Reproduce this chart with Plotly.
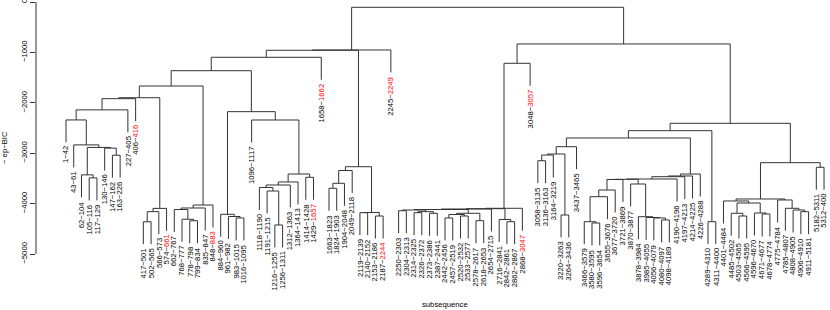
import plotly.graph_objects as go

# ---------------- data ----------------
leaf_labels = [
    "1-42", "43-61", "62-104", "105-116", "117-129", "130-146", "147-162", "163-226", "227-405", "406-416",
    "417-501", "502-565", "566-573", "574-661", "662-767", "768-777", "778-798", "799-834", "835-847", "848-883",
    "884-960", "961-982", "983-1015", "1016-1095", "1096-1117", "1118-1190", "1191-1215", "1216-1255", "1256-1311",
    "1312-1363", "1364-1413", "1414-1428", "1429-1657", "1658-1662", "1663-1823", "1824-1903", "1904-2048",
    "2049-2118", "2119-2139", "2140-2152", "2153-2186", "2187-2244", "2245-2249", "2250-2303", "2304-2313",
    "2314-2325", "2326-2372", "2373-2386", "2387-2441", "2442-2456", "2457-2519", "2520-2532", "2533-2577",
    "2578-2617", "2618-2653", "2654-2715", "2716-2841", "2842-2861", "2862-2867", "2868-3047", "3048-3057",
    "3058-3135", "3136-3163", "3164-3219", "3220-3263", "3264-3436", "3437-3465", "3466-3579", "3580-3595",
    "3596-3654", "3655-3676", "3677-3720", "3721-3869", "3870-3877", "3878-3984", "3985-4055", "4056-4079",
    "4080-4097", "4098-4189", "4190-4196", "4197-4213", "4214-4225", "4226-4288", "4289-4310", "4311-4400",
    "4401-4484", "4485-4502", "4503-4565", "4566-4595", "4596-4670", "4671-4677", "4678-4774", "4775-4784",
    "4785-4807", "4808-4905", "4906-4910", "4911-5181", "5182-5311", "5312-400",
]
red_leaves = [10, 14, 20, 33, 34, 42, 43, 60, 61]   # leaves whose end value is shown in red

# merges (R hclust style): "L<i>" = leaf i, "M<j>" = merge j (1-based)
merge_left = [
    "L4", "L3", "L7", "L6", "M2", "L2", "L1", "M7", "M8", "L11",
    "M10", "M11", "M9", "L17", "L16", "L15", "M16", "M17", "M13", "L23",
    "L22", "L21", "L28", "L27", "L26", "M25", "M26", "L32", "M27", "L25",
    "M22", "M19", "M32", "L35", "M34", "M35", "L39", "L41", "M37", "M36",
    "M33", "M41",
    "L44", "L46", "L48", "M44", "L50", "L52", "M47", "L54", "M49", "M43",
    "M52", "M53", "L58", "L57", "M54", "M57", "M58",
    "L62", "M60", "L65", "M61", "M63", "L69", "L68", "M66", "M67", "M68",
    "L78", "L77", "L76", "L75", "L74", "M69", "M75", "M76", "M77", "M78",
    "M64", "L84", "M80", "L88", "L87", "L91", "L90", "M84", "L86", "L96",
    "L95", "L94", "L93", "M88", "L98", "M93", "M82", "M59", "M42",
]
merge_right = [
    "L5", "M1", "L8", "M3", "M4", "M5", "M6", "L9", "L10", "L12",
    "L13", "L14", "M12", "L18", "M14", "M15", "L19", "L20", "M18", "L24",
    "M20", "M21", "L29", "M23", "M24", "L30", "L31", "L33", "M28", "M29",
    "M30", "M31", "L34", "L36", "L37", "L38", "L40", "L42", "M38", "M39",
    "M40", "L43",
    "L45", "L47", "L49", "M45", "L51", "L53", "M48", "L55", "M50", "M46",
    "M51", "L56", "L59", "M55", "M56", "L60", "L61",
    "L63", "L64", "L66", "M62", "L67", "L70", "M65", "L71", "L72", "L73",
    "L79", "M70", "M71", "M72", "M73", "M74", "L80", "L81", "L82", "L83",
    "M79", "L85", "M81", "L89", "M83", "L92", "M85", "M86", "M87", "L97",
    "M89", "M90", "M91", "M92", "L99", "M94", "M95", "M96", "M97",
]
merge_height = [
    -3490, -3430, -3040, -2900, -2885, -2835, -2340, -2140, -1918, -4360,
    -4160, -4095, -1899, -4340, -4310, -4117, -4087, -4028, -1667, -4285,
    -4256, -4212, -4424, -3750, -3680, -3631, -3571, -3478, -3413, -2341,
    -2176, -1363, -1097, -3696, -3597, -3343, -4180, -4246, -4176, -3268,
    -958, -952,
    -4141, -4180, -4192, -4160, -4285, -4246, -4216, -4339, -4192, -4127,
    -4117, -4107, -4359, -4315, -4101, -4093, -1216,
    -3149, -3036, -4226, -3016, -2871, -4385, -4359, -3863, -3730, -3522,
    -4325, -4285, -4276, -4260, -3611, -3518, -3512, -3466, -3452, -3413,
    -2698, -4359, -2553, -4246, -4192, -4206, -4186, -3988, -3948, -4160,
    -4127, -4093, -3928, -3908, -3279, -3188, -2407, -833, -105,
]
hang = 446
y_ticks = [0, -1000, -2000, -3000, -4000, -5000]

# ---------------- build dendrogram ----------------
node_x, node_y = {}, {}
for i in range(1, len(leaf_labels) + 1):
    node_x["L%d" % i] = float(i)

xs, ys = [], []
leaf_bottom = {}
for j, (a, b, h) in enumerate(zip(merge_left, merge_right, merge_height), start=1):
    tops = []
    for c in (a, b):
        if c.startswith("L"):
            tops.append(h - hang)
            leaf_bottom[int(c[1:])] = h - hang
        else:
            tops.append(node_y[c])
    xa, xb = node_x[a], node_x[b]
    xs += [xa, xa, xb, xb, None]
    ys += [tops[0], h, h, tops[1], None]
    node_x["M%d" % j] = (xa + xb) / 2
    node_y["M%d" % j] = h

FONT = "Liberation Sans, Arial, Helvetica, sans-serif"
LC = "#333333"

fig = go.Figure()
fig.add_trace(go.Scatter(x=xs, y=ys, mode="lines", line=dict(color=LC, width=1),
                         hoverinfo="skip", showlegend=False))

annotations = []
for i, lab in enumerate(leaf_labels, start=1):
    a, b = lab.split("-")
    if i in red_leaves:
        txt = a + "\u2212" + "<span style='color:#ff0000'>" + b + "</span>"
    else:
        txt = a + "\u2212" + b
    annotations.append(dict(x=i, y=leaf_bottom[i], xref="x", yref="y", text=txt,
                            textangle=-90, showarrow=False, xanchor="center", yanchor="top",
                            yshift=-3, font=dict(family=FONT, size=7.7, color="black"),
                            borderpad=0))

annotations.append(dict(x=50, y=-5992, xref="x", yref="y", text="subsequence", showarrow=False,
                        xanchor="center", yanchor="middle",
                        font=dict(family=FONT, size=7.7, color="black")))
annotations.append(dict(x=0, y=-2897, xref="paper", yref="y", xshift=-32, text="\u2212 ep\u2212BIC",
                        textangle=-90, showarrow=False, xanchor="center", yanchor="middle",
                        font=dict(family=FONT, size=7.7, color="black")))

fig.update_layout(
    width=830, height=310,
    margin=dict(l=36, r=0, t=0, b=0),
    paper_bgcolor="white", plot_bgcolor="white",
    showlegend=False,
    annotations=annotations,
    shapes=[dict(type="line", xref="paper", x0=0, x1=0, yref="y", y0=0, y1=-5000,
                 line=dict(color=LC, width=1))],
    xaxis=dict(range=[-2.878, 99.77], visible=False, fixedrange=True),
    yaxis=dict(range=[-6111, 39.7], showgrid=False, zeroline=False, showline=False,
               tickvals=y_ticks, ticktext=[("\u2212" + str(-v)) if v < 0 else str(v) for v in y_ticks],
               ticks="outside", ticklen=5, tickcolor=LC, tickwidth=1, tickangle=-90,
               ticklabeloverflow="allow",
               tickfont=dict(family=FONT, size=7.7, color="black"), fixedrange=True),
)

fig.write_html("out.html", config={"displayModeBar": False},
               post_script="document.body.style.margin='0';document.body.style.overflow='hidden';")
